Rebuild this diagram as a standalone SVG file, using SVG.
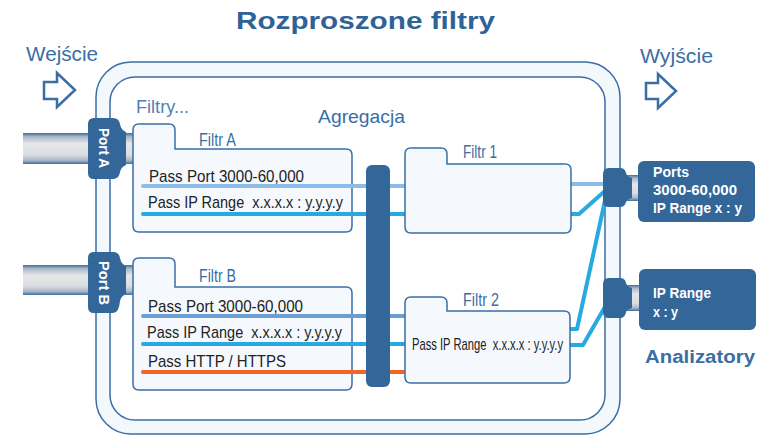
<svg xmlns="http://www.w3.org/2000/svg" width="771" height="435" viewBox="0 0 771 435">
<defs>
<linearGradient id="cable" x1="0" y1="0" x2="0" y2="1">
<stop offset="0" stop-color="#3f6d9f"/>
<stop offset="0.12" stop-color="#a9b8c9"/>
<stop offset="0.35" stop-color="#e6e7e9"/>
<stop offset="0.7" stop-color="#dcdde0"/>
<stop offset="0.88" stop-color="#a9b8c9"/>
<stop offset="1" stop-color="#3f6d9f"/>
</linearGradient>
<style>
.t{font-family:"Liberation Sans",Arial,sans-serif}
.blue{fill:#3a6ea5}
.box{fill:#f5f9fe;stroke:#3a6ea5;stroke-width:1.5}
.dark{fill:#336699}
.pass{font-family:"Liberation Sans",Arial,sans-serif;font-size:17px;fill:#222;white-space:pre}
.flab{font-family:"Liberation Sans",Arial,sans-serif;font-size:18px;fill:#3a6ea5}
.wt{font-family:"Liberation Sans",Arial,sans-serif;font-weight:bold;fill:#fff}
.ln{fill:none;stroke-width:4;stroke-linecap:round;stroke-linejoin:round}
.lb{stroke:#8bbde8}
.mb{stroke:#6b9fd4}
.cb{stroke:#27a9e1}
.or{stroke:#f26522}
</style>
</defs>
<rect width="771" height="435" fill="#fff"/>

<text class="t" x="236" y="29" font-size="24" font-weight="bold" fill="#2f6398" textLength="259" lengthAdjust="spacingAndGlyphs">Rozproszone filtry</text>

<g id="wejscie">
<text class="t blue" x="26" y="61" font-size="20" textLength="72" lengthAdjust="spacingAndGlyphs">Wejście</text>
<path d="M44,82 H57 V73 L75,90 L57,107 V99 H44 Z" fill="#fff" stroke="#3a6ea5" stroke-width="2.5" stroke-linejoin="miter"/>
</g>
<g id="wyjscie">
<text class="t blue" x="640" y="63" font-size="20" textLength="73" lengthAdjust="spacingAndGlyphs">Wyjście</text>
<path d="M646,83 H658 V74 L676,91 L658,108 V99 H646 Z" fill="#fff" stroke="#3a6ea5" stroke-width="2.5"/>
</g>

<g id="container">
<rect x="96" y="62" width="524" height="372" rx="35" fill="#f3f8fd" stroke="#3a6ea5" stroke-width="1.5"/>
<rect x="110" y="77" width="495" height="343" rx="25" fill="#fff" stroke="#3a6ea5" stroke-width="1.5"/>
<text class="t" x="136" y="113" font-size="18" fill="#4f7fb5" textLength="53" lengthAdjust="spacingAndGlyphs">Filtry...</text>
</g>

<text id="agregacja-label" class="t blue" x="318" y="123" font-size="19" textLength="87" lengthAdjust="spacingAndGlyphs">Agregacja</text>

<g id="portA">
<rect x="23" y="133" width="112" height="31" fill="url(#cable)"/>
<path d="M94,118 H113 Q119,118 120,124 Q121,130 126,132 V165 Q121,167 120,172 Q119,179 113,179 H94 Q88,179 88,173 V124 Q88,118 94,118 Z" class="dark"/>
<text class="wt" font-size="14" transform="translate(99,148) rotate(90)" text-anchor="middle" textLength="40" lengthAdjust="spacingAndGlyphs">Port A</text>
</g>
<g id="portB">
<rect x="23" y="265" width="112" height="30" fill="url(#cable)"/>
<path d="M94,252 H113 Q119,252 120,258 Q121,264 126,266 V294 Q121,296 120,301 Q119,313 113,313 H94 Q88,313 88,307 V258 Q88,252 94,252 Z" class="dark"/>
<text class="wt" font-size="14" transform="translate(99,283) rotate(90)" text-anchor="middle" textLength="44" lengthAdjust="spacingAndGlyphs">Port B</text>
</g>

<g id="filtrA">
<path class="box" d="M133,130 Q133,124 139,124 H169 Q175,124 175,130 V149 H346 Q352,149 352,155 V226 Q352,232 346,232 H139 Q133,232 133,226 Z"/>
<text class="flab" x="199" y="146" textLength="37" lengthAdjust="spacingAndGlyphs">Filtr A</text>
<text class="pass" x="149" y="182" textLength="155" lengthAdjust="spacingAndGlyphs">Pass Port 3000-60,000</text>
<text class="pass" x="148" y="208" textLength="195" lengthAdjust="spacingAndGlyphs" xml:space="preserve">Pass IP Range  x.x.x.x : y.y.y.y</text>
</g>

<g id="filtrB">
<path class="box" d="M133,264 Q133,258 139,258 H169 Q175,258 175,264 V287 H346 Q352,287 352,293 V384 Q352,390 346,390 H139 Q133,390 133,384 Z"/>
<text class="flab" x="199" y="282" textLength="37" lengthAdjust="spacingAndGlyphs">Filtr B</text>
<text class="pass" x="148" y="312" textLength="155" lengthAdjust="spacingAndGlyphs">Pass Port 3000-60,000</text>
<text class="pass" x="147" y="338" textLength="195" lengthAdjust="spacingAndGlyphs" xml:space="preserve">Pass IP Range  x.x.x.x : y.y.y.y</text>
<text class="pass" x="148" y="367" textLength="138" lengthAdjust="spacingAndGlyphs">Pass HTTP / HTTPS</text>
</g>

<g id="connectors">
<path class="ln lb" d="M143,186 H405"/>
<path class="ln cb" d="M143,214 H405"/>
<path class="ln mb" d="M143,316 H405"/>
<path class="ln cb" d="M143,344 H405"/>
<path class="ln or" d="M143,372 H405"/>
<path class="ln lb" d="M571,184 H606"/>
<path class="ln cb" d="M571,214 H579 L606,190"/>
<path class="ln cb" d="M570,329 H577 L606,196"/>
<path class="ln cb" d="M570,345 H583 L606,305"/>
</g>

<g id="agregacja">
<rect x="366" y="165" width="24" height="222" rx="6" class="dark"/>
</g>

<g id="filtr1">
<path class="box" d="M405,154 Q405,148 411,148 H441 Q447,148 447,154 V164 H565 Q571,164 571,170 V227 Q571,233 565,233 H411 Q405,233 405,227 Z"/>
<text class="flab" x="463" y="158" textLength="34" lengthAdjust="spacingAndGlyphs">Filtr 1</text>
</g>

<g id="filtr2">
<path class="box" d="M405,303 Q405,297 411,297 H441 Q447,297 447,303 V311 H564 Q570,311 570,317 V377 Q570,383 564,383 H411 Q405,383 405,377 Z"/>
<text class="flab" x="463" y="306" textLength="36" lengthAdjust="spacingAndGlyphs">Filtr 2</text>
<text class="pass" x="412" y="350" font-size="15" textLength="151" lengthAdjust="spacingAndGlyphs" xml:space="preserve">Pass IP Range  x.x.x.x : y.y.y.y</text>
</g>

<g id="analizator1">
<rect x="624" y="175" width="16" height="26" fill="url(#cable)"/>
<path d="M609,168 H620 Q625,168 626,173 Q627,177 632,178 V198 Q627,199 626,202 Q625,207 620,207 H609 Q603,207 603,201 V174 Q603,168 609,168 Z" class="dark"/>
<rect x="638" y="161" width="117" height="61" rx="6" class="dark"/>
<text class="wt" x="653" y="177" font-size="14" textLength="36" lengthAdjust="spacingAndGlyphs">Ports</text>
<text class="wt" x="653" y="195" font-size="14" textLength="84" lengthAdjust="spacingAndGlyphs">3000-60,000</text>
<text class="wt" x="653" y="213" font-size="14" textLength="89" lengthAdjust="spacingAndGlyphs">IP Range x : y</text>
</g>

<g id="analizator2">
<rect x="624" y="285" width="16" height="26" fill="url(#cable)"/>
<path d="M609,278 H620 Q625,278 626,283 Q627,287 632,288 V308 Q627,309 626,312 Q625,318 620,318 H609 Q603,318 603,312 V284 Q603,278 609,278 Z" class="dark"/>
<rect x="639" y="269" width="117" height="61" rx="6" class="dark"/>
<text class="wt" x="653" y="298" font-size="14" textLength="58" lengthAdjust="spacingAndGlyphs">IP Range</text>
<text class="wt" x="653" y="317" font-size="14" textLength="25" lengthAdjust="spacingAndGlyphs">x : y</text>
<text class="t" x="645" y="363" font-size="18" font-weight="bold" fill="#3a6ea5" textLength="110" lengthAdjust="spacingAndGlyphs">Analizatory</text>
</g>
</svg>
